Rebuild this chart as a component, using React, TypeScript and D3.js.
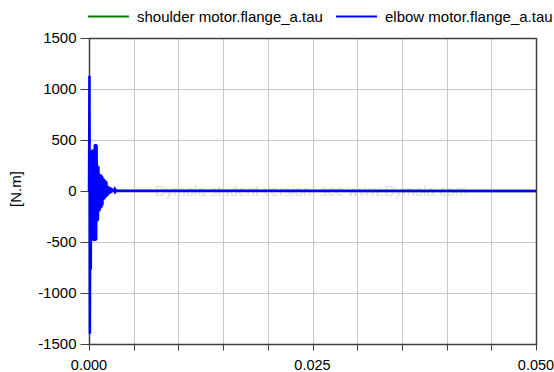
import { useEffect, useRef } from "react";
import * as d3 from "d3";

const xTickLabels = ["0.000", "0.025", "0.050"];
const yTicks = [-1500, -1000, -500, 0, 500, 1000, 1500];

const shoulderTime = [0, 0.0005, 0.001, 0.002, 0.05];
const shoulderTau = [0, 12, -8, 3, 0];

const elbowTime = [
  0, 0.00005, 0.0001, 0.00015, 0.0002, 0.00025, 0.0003, 0.00035, 0.0004, 0.00045,
  0.0005, 0.00055, 0.0006, 0.00065, 0.0007, 0.00075, 0.0008, 0.00085, 0.0009, 0.00095,
  0.001, 0.00105, 0.0011, 0.00115, 0.0012, 0.00125, 0.0013, 0.00135, 0.0014, 0.00145,
  0.0015, 0.00155, 0.0016, 0.00165, 0.0017, 0.00175, 0.0018, 0.00185, 0.0019, 0.00195,
  0.002, 0.00205, 0.0021, 0.00215, 0.0022, 0.00225, 0.0023, 0.00235, 0.0024, 0.00245,
  0.0025, 0.00255, 0.0026, 0.00265, 0.0027, 0.00275, 0.0028, 0.00285, 0.0029, 0.00295,
  0.003, 0.00305, 0.0031, 0.05,
];
const elbowTau = [
  0, 1130, -1400, 390, -770, 400, -480, 380, -490, 410,
  -470, 395, -480, 455, -490, 460, -480, 450, -300, 250,
  -290, 240, -200, 170, -190, 165, -170, 160, -160, 150,
  -140, 130, -90, 120, -80, 110, -70, 100, -60, 90,
  -50, 50, -40, 45, -30, 40, -25, 35, -20, 30,
  -15, 25, -10, 20, -8, 15, -5, 10, -3, 8,
  -2, 5, 0, 0,
];

const FONT = "'Liberation Sans', Arial, sans-serif";

export default function App() {
  const ref = useRef<SVGSVGElement>(null);

  useEffect(() => {
    if (!ref.current) return;
    const width = 554;
    const height = 372;
    const margin = { top: 38, right: 18, bottom: 28, left: 89 };

    const svg = d3.select(ref.current);
    svg.selectAll("*").remove();
    svg.attr("width", width).attr("height", height);

    const x = d3.scaleLinear().domain([0, 0.05]).range([margin.left, width - margin.right]);
    const y = d3.scaleLinear().domain([-1500, 1500]).range([height - margin.bottom, margin.top]);

    const xGrid = d3.range(0, 11).map((i) => i * 0.005);

    // grid
    svg
      .append("g")
      .attr("stroke", "#c8c8c8")
      .attr("stroke-width", 1)
      .selectAll("line")
      .data(xGrid)
      .join("line")
      .attr("x1", (d) => Math.round(x(d)) + 0.5)
      .attr("x2", (d) => Math.round(x(d)) + 0.5)
      .attr("y1", y(1500))
      .attr("y2", y(-1500));
    svg
      .append("g")
      .attr("stroke", "#c8c8c8")
      .selectAll("line")
      .data(yTicks)
      .join("line")
      .attr("x1", x(0))
      .attr("x2", x(0.05))
      .attr("y1", (d) => Math.round(y(d)) + 0.5)
      .attr("y2", (d) => Math.round(y(d)) + 0.5);

    // watermark
    svg
      .append("text")
      .attr("x", 311)
      .attr("y", y(0))
      .attr("dy", "0.35em")
      .attr("text-anchor", "middle")
      .attr("fill", "#e0e0e0")
      .attr("font-family", FONT)
      .attr("font-size", 15)
      .text("Dymola student version, see www.Dymola.com");

    // frame
    const x0 = Math.round(x(0)) + 0.5;
    const x1 = Math.round(x(0.05)) + 0.5;
    const yT = Math.round(y(1500)) + 0.5;
    const yB = Math.round(y(-1500)) + 0.5;
    svg
      .append("path")
      .attr("d", `M${x0},${yB}V${yT}H${x1}V${yB}Z`)
      .attr("fill", "none")
      .attr("stroke", "#404040")
      .attr("stroke-width", 1.5);

    // y ticks
    svg
      .append("g")
      .attr("stroke", "#404040")
      .selectAll("line")
      .data(yTicks)
      .join("line")
      .attr("x1", x0 - 9)
      .attr("x2", x0)
      .attr("y1", (d) => Math.round(y(d)) + 0.5)
      .attr("y2", (d) => Math.round(y(d)) + 0.5);
    svg
      .append("g")
      .selectAll("text")
      .data(yTicks)
      .join("text")
      .attr("x", x0 - 13)
      .attr("y", (d) => y(d))
      .attr("dy", "0.35em")
      .attr("text-anchor", "end")
      .attr("fill", "#000")
      .attr("font-family", FONT)
      .attr("font-size", 15)
      .text((d) => `${d}`);

    // x ticks
    svg
      .append("g")
      .attr("stroke", "#404040")
      .selectAll("line")
      .data(xGrid)
      .join("line")
      .attr("x1", (d) => Math.round(x(d)) + 0.5)
      .attr("x2", (d) => Math.round(x(d)) + 0.5)
      .attr("y1", yB)
      .attr("y2", yB + 6);
    svg
      .append("g")
      .selectAll("text")
      .data(xTickLabels)
      .join("text")
      .attr("x", (d) => x(+d))
      .attr("y", yB + 20)
      .attr("dy", "0.35em")
      .attr("text-anchor", "middle")
      .attr("fill", "#000")
      .attr("font-family", FONT)
      .attr("font-size", 14.5)
      .text((d) => d);

    // y label
    svg
      .append("text")
      .attr("transform", `translate(16,${y(0) - 2}) rotate(-90)`)
      .attr("text-anchor", "middle")
      .attr("dy", "0.35em")
      .attr("font-family", FONT)
      .attr("font-size", 15)
      .text("[N.m]");

    const line = d3
      .line<[number, number]>()
      .x((d) => x(d[0]))
      .y((d) => y(d[1]));

    svg
      .append("path")
      .datum(shoulderTime.map((t, i) => [t, shoulderTau[i]] as [number, number]))
      .attr("d", line)
      .attr("fill", "none")
      .attr("stroke", "#008000")
      .attr("stroke-width", 2.5);

    svg
      .append("path")
      .datum(elbowTime.map((t, i) => [t, elbowTau[i]] as [number, number]))
      .attr("d", line)
      .attr("fill", "none")
      .attr("stroke", "#0000ff")
      .attr("stroke-width", 2.5);

    // legend
    const legend = [
      { label: "shoulder motor.flange_a.tau", color: "#008000", x: 88 },
      { label: "elbow motor.flange_a.tau", color: "#0000ff", x: 336 },
    ];
    const lg = svg.append("g").selectAll("g").data(legend).join("g");
    lg.append("line")
      .attr("x1", (d) => d.x)
      .attr("x2", (d) => d.x + 41)
      .attr("y1", 16.5)
      .attr("y2", 16.5)
      .attr("stroke", (d) => d.color)
      .attr("stroke-width", 2);
    lg.append("text")
      .attr("x", (d) => d.x + 49)
      .attr("y", 16.5)
      .attr("dy", "0.35em")
      .attr("font-family", FONT)
      .attr("font-size", 15)
      .attr("fill", "#000")
      .text((d) => d.label);
  }, []);

  return <svg ref={ref} style={{ position: "absolute", left: 0, top: 0 }} />;
}
